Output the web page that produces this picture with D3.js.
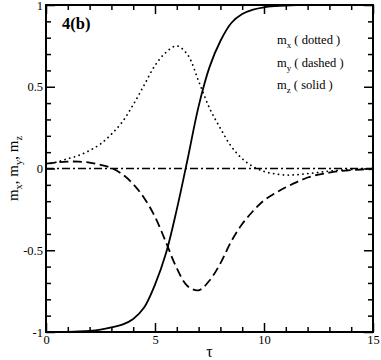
<!DOCTYPE html>
<html>
<head>
<meta charset="utf-8">
<script src="https://cdn.jsdelivr.net/npm/d3@7"></script>
<style>
  body { margin: 0; background: #fff; }
  .axis .domain { display: none; }
  .axis line { stroke: #000; stroke-width: 1.5; }
</style>
</head>
<body>
<div id="chart"></div>
<script>
// time grid (tau) and the three magnetisation components
var tau = [0, 0.5, 1, 1.5, 2, 2.5, 3, 3.5, 4, 4.5, 5, 5.5, 6, 6.5, 7, 7.5,
           8, 8.5, 9, 9.5, 10, 10.5, 11, 11.5, 12, 12.5, 13, 13.5, 14, 14.5, 15];

var mx = [0.025, 0.04, 0.06, 0.08, 0.11, 0.15, 0.21, 0.285, 0.39, 0.51, 0.63, 0.71, 0.75, 0.695, 0.535, 0.37,
          0.245, 0.135, 0.06, 0.012, -0.018, -0.033, -0.04, -0.038, -0.032, -0.024, -0.016, -0.01, -0.006, -0.003, -0.001];

var my = [0.03, 0.037, 0.042, 0.042, 0.036, 0.022, 0.003, -0.035, -0.095, -0.18, -0.295, -0.45, -0.61, -0.72, -0.745, -0.685,
          -0.58, -0.445, -0.34, -0.26, -0.195, -0.152, -0.115, -0.083, -0.055, -0.038, -0.025, -0.016, -0.01, -0.006, -0.004];

var mz = [-1, -1, -0.999, -0.997, -0.993, -0.985, -0.972, -0.955, -0.92, -0.85, -0.71, -0.52, -0.25, 0.06, 0.38, 0.62,
          0.78, 0.89, 0.945, 0.972, 0.986, 0.993, 0.997, 0.999, 1, 1, 1, 1, 1, 1, 1];

var xMajor = [0, 5, 10, 15];
var xMinor = [1, 2, 3, 4, 6, 7, 8, 9, 11, 12, 13, 14];
var yMajor = [-1, -0.5, 0, 0.5, 1];
var yMinor = [-0.9, -0.8, -0.7, -0.6, -0.4, -0.3, -0.2, -0.1, 0.1, 0.2, 0.3, 0.4, 0.6, 0.7, 0.8, 0.9];

var legendLabels = [["x", " ( dotted )"], ["y", " ( dashed )"], ["z", " ( solid )"]];

var serif = "'Liberation Serif', 'DejaVu Serif', serif";

var svg = d3.select("#chart")
    .append("svg")
    .attr("width", 381)
    .attr("height", 360)
    .attr("font-family", serif);

var margin = {top: 5, right: 8, bottom: 28, left: 46},
    width = +svg.attr("width") - margin.left - margin.right,
    height = +svg.attr("height") - margin.top - margin.bottom,
    g = svg.append("g").attr("transform", "translate(" + margin.left + "," + margin.top + ")");

var x = d3.scaleLinear().domain([0, 15]).range([0, width]);
var y = d3.scaleLinear().domain([-1, 1]).range([height, 0]);

var fmt = function(d) { return String(d); };

// major + minor ticks on all four sides, pointing inward
g.append("g").attr("class", "axis")
    .attr("transform", "translate(0," + height + ")")
    .call(d3.axisBottom(x).tickValues(xMajor).tickSizeInner(-9).tickSizeOuter(0).tickPadding(3).tickFormat(fmt))
    .attr("font-family", serif).attr("font-size", 12.5)
    .selectAll("text").attr("fill", "#000");
g.append("g").attr("class", "axis")
    .attr("transform", "translate(0," + height + ")")
    .call(d3.axisBottom(x).tickValues(xMinor).tickSizeInner(-5).tickSizeOuter(0).tickFormat(""));
g.append("g").attr("class", "axis")
    .call(d3.axisTop(x).tickValues(xMajor).tickSizeInner(-9).tickSizeOuter(0).tickFormat(""));
g.append("g").attr("class", "axis")
    .call(d3.axisTop(x).tickValues(xMinor).tickSizeInner(-5).tickSizeOuter(0).tickFormat(""));

g.append("g").attr("class", "axis")
    .call(d3.axisLeft(y).tickValues(yMajor).tickSizeInner(-9).tickSizeOuter(0).tickPadding(3).tickFormat(fmt))
    .attr("font-family", serif).attr("font-size", 12.5)
    .selectAll("text").attr("fill", "#000");
g.append("g").attr("class", "axis")
    .call(d3.axisLeft(y).tickValues(yMinor).tickSizeInner(-5).tickSizeOuter(0).tickFormat(""));
g.append("g").attr("class", "axis")
    .attr("transform", "translate(" + width + ",0)")
    .call(d3.axisRight(y).tickValues(yMajor).tickSizeInner(-9).tickSizeOuter(0).tickFormat(""));
g.append("g").attr("class", "axis")
    .attr("transform", "translate(" + width + ",0)")
    .call(d3.axisRight(y).tickValues(yMinor).tickSizeInner(-5).tickSizeOuter(0).tickFormat(""));

// frame
g.append("rect")
    .attr("width", width)
    .attr("height", height)
    .attr("fill", "none")
    .attr("stroke", "#000")
    .attr("stroke-width", 2);

// zero reference line (dash-dot)
g.append("line")
    .attr("x1", x(0)).attr("x2", x(15))
    .attr("y1", y(0)).attr("y2", y(0))
    .attr("stroke", "#000")
    .attr("stroke-width", 1.4)
    .attr("stroke-dasharray", "8,3,2,3");

function makeLine(vals) {
  return d3.line()
      .x(function(d, i) { return x(tau[i]); })
      .y(function(d) { return y(d); })
      .curve(d3.curveCatmullRom)(vals);
}

g.append("path")
    .attr("d", makeLine(mx))
    .attr("fill", "none")
    .attr("stroke", "#000")
    .attr("stroke-width", 1.8)
    .attr("stroke-linecap", "round")
    .attr("stroke-dasharray", "0.1,4.8");

g.append("path")
    .attr("d", makeLine(my))
    .attr("fill", "none")
    .attr("stroke", "#000")
    .attr("stroke-width", 1.8)
    .attr("stroke-dasharray", "9,4.5");

g.append("path")
    .attr("d", makeLine(mz))
    .attr("fill", "none")
    .attr("stroke", "#000")
    .attr("stroke-width", 1.8);

// panel tag
g.append("text")
    .attr("x", 16)
    .attr("y", 24)
    .attr("font-size", 16.5)
    .attr("font-weight", "bold")
    .text("4(b)");

// legend
legendLabels.forEach(function(l, i) {
  var t = g.append("text")
      .attr("x", 231)
      .attr("y", 39 + i * 22.5)
      .attr("font-size", 12.5);
  t.append("tspan").text("m");
  t.append("tspan").attr("dy", 4).attr("font-size", 9).text(l[0]);
  t.append("tspan").attr("dy", -4).text(l[1]);
});

// x label
svg.append("text")
    .attr("x", margin.left + width / 2)
    .attr("y", 357)
    .attr("text-anchor", "middle")
    .attr("font-size", 16)
    .text("\u03c4");

// y label
var yl = svg.append("text")
    .attr("transform", "translate(18," + (margin.top + height / 2) + ") rotate(-90)")
    .attr("text-anchor", "middle")
    .attr("font-size", 15);
["x", "y", "z"].forEach(function(s, i) {
  yl.append("tspan").attr("dy", i === 0 ? 0 : -4).text(i === 0 ? "m" : ", m");
  yl.append("tspan").attr("dy", 4).attr("font-size", 10.5).text(s);
});
</script>
</body>
</html>
